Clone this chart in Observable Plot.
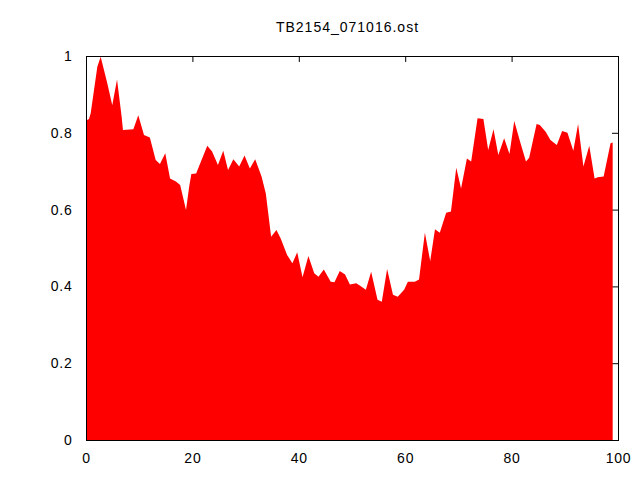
<!DOCTYPE html>
<html>
<head>
<meta charset="utf-8">
<script src="https://cdn.jsdelivr.net/npm/d3@7"></script>
<script src="https://cdn.jsdelivr.net/npm/@observablehq/plot@0.6"></script>
<style>
  body { margin: 0; background: #fff; }
  #title { position: relative; height: 40px; font-family: "Liberation Sans", Arial, sans-serif; font-size: 14px; line-height: 14px; letter-spacing: 1px; color: #000; }
  #title span { position: absolute; top: 20px; left: 0; width: 695px; text-align: center; }
</style>
</head>
<body>
<div id="title"><span>TB2154_071016.ost</span></div>
<div id="chart"></div>
<script>
const xs = [0, 0.56, 0.88, 1.5, 2.13, 2.76, 4.0, 4.94, 5.83, 6.7, 6.95, 8.9, 9.83, 10.9, 12.0, 13.1, 13.9, 14.9, 15.8, 16.9, 17.7, 18.8, 19.4, 19.8, 20.7, 22.8, 23.7, 24.8, 25.8, 26.7, 27.7, 28.8, 29.8, 30.8, 31.8, 33.0, 33.8, 34.8, 35.8, 36.6, 37.8, 38.8, 39.7, 40.7, 41.8, 42.9, 43.7, 44.7, 46.0, 46.7, 47.7, 48.7, 49.6, 50.8, 51.6, 52.6, 53.6, 54.8, 55.6, 56.6, 57.7, 58.6, 59.8, 60.5, 61.8, 62.6, 63.7, 64.7, 65.6, 66.5, 67.7, 68.6, 69.6, 70.5, 71.6, 72.4, 73.6, 74.7, 75.6, 76.6, 77.5, 78.6, 79.6, 80.5, 81.6, 82.7, 83.3, 84.7, 85.3, 86.4, 87.3, 88.5, 89.5, 90.5, 91.6, 92.5, 93.5, 94.6, 95.6, 96.2, 97.3, 98.6, 99.0];
const ys = [0.832, 0.836, 0.851, 0.911, 0.972, 0.998, 0.929, 0.872, 0.939, 0.842, 0.807, 0.809, 0.846, 0.794, 0.788, 0.729, 0.719, 0.747, 0.681, 0.673, 0.664, 0.599, 0.660, 0.693, 0.694, 0.766, 0.751, 0.716, 0.753, 0.703, 0.731, 0.712, 0.741, 0.707, 0.731, 0.686, 0.642, 0.529, 0.547, 0.525, 0.482, 0.460, 0.489, 0.424, 0.479, 0.434, 0.425, 0.444, 0.412, 0.411, 0.440, 0.431, 0.405, 0.408, 0.401, 0.391, 0.438, 0.365, 0.360, 0.445, 0.378, 0.373, 0.391, 0.412, 0.412, 0.418, 0.540, 0.466, 0.549, 0.540, 0.592, 0.595, 0.709, 0.655, 0.733, 0.725, 0.838, 0.836, 0.755, 0.809, 0.742, 0.786, 0.745, 0.831, 0.777, 0.725, 0.735, 0.823, 0.820, 0.803, 0.781, 0.768, 0.805, 0.800, 0.753, 0.823, 0.712, 0.766, 0.681, 0.684, 0.686, 0.773, 0.775];
const xTicks = [0, 20, 40, 60, 80, 100];
const yTicks = [0, 0.2, 0.4, 0.6, 0.8, 1];

const data = xs.map((x, i) => ({x, y: ys[i]}));
const W = 640, H = 440, mT = 16, mB = 40, mL = 86, mR = 22;
const plotH = H - mT - mB, plotW = W - mL - mR, tl = 6;

const chart = Plot.plot({
  width: W, height: H,
  marginTop: mT, marginBottom: mB, marginLeft: mL, marginRight: mR,
  x: {domain: [0, 100], label: null},
  y: {domain: [0, 1], label: null},
  style: {fontFamily: "'Liberation Sans', Arial, sans-serif", fontSize: "14px", color: "#000", background: "#fff", letterSpacing: "0.8px"},
  marks: [
    Plot.tickX(xTicks, {x: d => d, insetTop: plotH - tl, stroke: "black"}),
    Plot.tickX(xTicks, {x: d => d, insetBottom: plotH - tl, stroke: "black"}),
    Plot.tickY(yTicks, {y: d => d, insetRight: plotW - tl, stroke: "black"}),
    Plot.tickY(yTicks, {y: d => d, insetLeft: plotW - tl, stroke: "black"}),
    Plot.areaY(data, {x: "x", y: "y", fill: "#ff0000", curve: "linear"}),
    Plot.frame({stroke: "black"}),
    Plot.axisX(xTicks, {tickSize: 0, tickPadding: 13, label: null, tickFormat: d => String(d)}),
    Plot.axisY(yTicks, {tickSize: 0, tickPadding: 14, label: null, tickFormat: d => String(d)})
  ]
});
document.getElementById("chart").appendChild(chart);
</script>
</body>
</html>
